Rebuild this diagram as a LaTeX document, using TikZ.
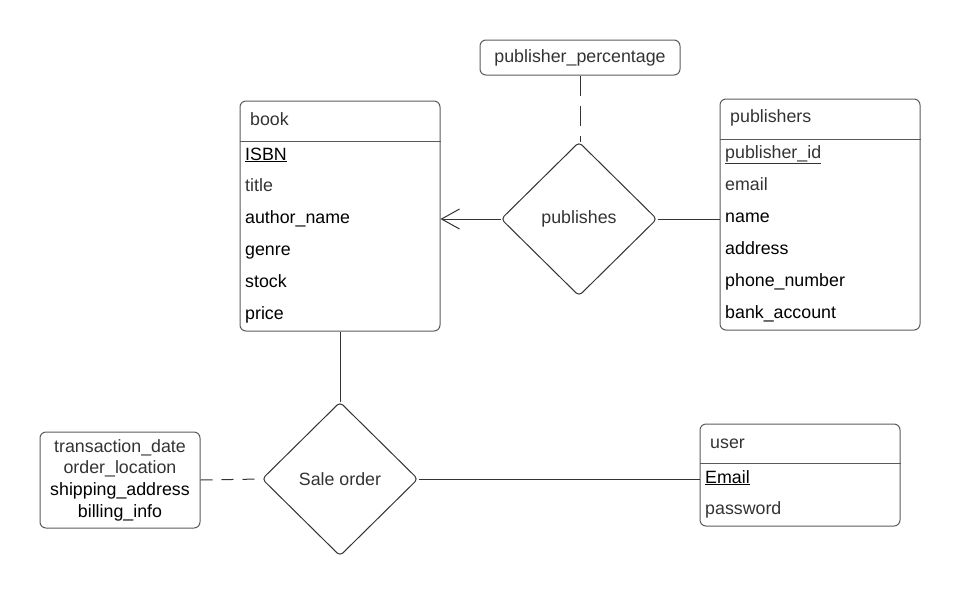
\documentclass[tikz,border=0pt]{standalone}
\usepackage{fontspec}
\setmainfont{Liberation Sans}
\usetikzlibrary{shapes.geometric,arrows.meta}
\definecolor{ink}{HTML}{333333}
\definecolor{rim}{HTML}{5A5A5A}
\begin{document}
\begin{tikzpicture}[x=1pt, y=-1pt, every node/.style={font=\fontsize{17.8}{21.6}\selectfont},
  ent/.style={draw=rim,line width=1pt,rounded corners=6pt,minimum width=200pt,inner sep=0pt},
  rel/.style={draw=ink,line width=1pt,diamond,rounded corners=4pt,minimum width=156pt,minimum height=154pt,inner sep=0pt,text=ink},
  attr/.style={draw=rim,line width=1pt,rounded corners=6pt,inner sep=0pt,align=center},
  fld/.style={anchor=base west,inner sep=0pt},
  link/.style={draw=ink,line width=1pt}]
\useasboundingbox (0,0) rectangle (960,600);
% entities
\node[ent,minimum height=230pt] (book) at (340,216) {};
\draw[rim,line width=1pt] (book.west |- 0,141) -- (book.east |- 0,141);
\node[fld,text=ink] at (250,125) {book};
\foreach \f/\c [count=\i from 0] in {\underline{ISBN}/black,title/ink,author\_name/black,genre/black,stock/black,price/black}
  \node[fld,text=\c] at (245,{160+31.8*\i}) {\f};
\node[ent,minimum height=231pt] (pubs) at (820,214.5) {};
\draw[rim,line width=1pt] (pubs.west |- 0,139) -- (pubs.east |- 0,139);
\node[fld,text=ink] at (730,122) {publishers};
\foreach \f/\c [count=\i from 0] in {\underline{publisher\_id}/ink,email/ink,name/black,address/black,phone\_number/black,bank\_account/black}
  \node[fld,text=\c] at (725,{158+32*\i}) {\f};
\node[ent,minimum height=102pt] (user) at (800,475) {};
\draw[rim,line width=1pt] (user.west |- 0,463) -- (user.east |- 0,463);
\node[fld,text=ink] at (710,448) {user};
\node[fld] at (705,483) {\underline{Email}};
\node[fld,text=ink] at (705,514) {password};
% relationships and attributes
\node[rel] (pub) at (579,219) {publishes};
\node[rel] (sale) at (340,479) {Sale order};
\node[attr,minimum width=200pt,minimum height=35pt,text=ink] (pct) at (580,57.5) {publisher\_percentage};
\node[attr,minimum width=160pt,minimum height=96pt] (info) at (120,480)
  {\textcolor{ink}{transaction\_date}\\\textcolor{ink}{order\_location}\\shipping\_address\\billing\_info};
% connectors
\draw[link,-{Straight Barb[length=18pt,width=20pt]}] (pub.west) -- (pub.west -| book.east);
\draw[link] (pub.east) -- (pub.east -| pubs.west);
\draw[link,dash pattern=on 20pt off 10pt] (pct.south) -- (pct.south |- pub.north);
\draw[link] (book.south) -- (sale.north);
\draw[link,dash pattern=on 12pt off 9pt] (info.east) -- (sale.west);
\draw[link] (sale.east) -- (sale.east -| user.west);
\end{tikzpicture}
\end{document}
